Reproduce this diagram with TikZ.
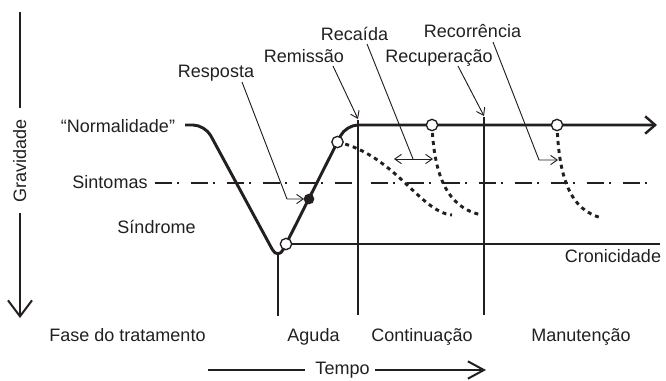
\documentclass[tikz,border=0pt]{standalone}
\usepackage{fontspec}
\setmainfont{Liberation Sans}
\usetikzlibrary{arrows.meta}
\definecolor{ink}{HTML}{231F20}
\begin{document}
\begin{tikzpicture}[x=0.75pt,y=-0.75pt,
  lbl/.style={font=\fontsize{13.5}{16}\selectfont, text=ink, inner sep=0pt, anchor=base},
  main/.style={draw=ink, line width=2.2pt},
  phase/.style={draw=ink, line width=1.3pt},
  lead/.style={draw=ink, line width=0.7pt},
  tipS/.style={-{Straight Barb[length=5pt,width=7pt]}},
  relapse/.style={draw=ink, line width=2.2pt, dash pattern=on 3pt off 3pt},
  symp/.style={draw=ink, line width=1.8pt, dash pattern=on 12.75pt off 3.75pt on 1.5pt off 9pt},
  wdot/.style={circle, draw=ink, fill=white, line width=1pt, minimum size=8.5pt, inner sep=0pt},
  bdot/.style={circle, fill=ink, minimum size=8pt, inner sep=0pt},
]
\useasboundingbox (0,0) rectangle (666,380);

% --- coordinates of the main course ---
\coordinate (n0) at (185,125);
\coordinate (n1) at (205,125);
\coordinate (bot) at (278,260);
\coordinate (top) at (346,125);
\coordinate (nend) at (657,125);

% symptoms threshold
\coordinate (s0) at (155,183);
\coordinate (s1) at (652,183);
\draw[symp] (s0) -- (s1);

% phase lines
\coordinate (stem0) at (278,255);
\coordinate (stem1) at (278,316);
\coordinate (v1a) at (358,120);
\coordinate (v1b) at (358,315);
\coordinate (v2a) at (484,117);
\coordinate (v2b) at (484,315);
\draw[draw=ink, line width=1.6pt] (stem0) -- (stem1);
\draw[phase] (v1a) -- (v1b);
\draw[phase] (v2a) -- (v2b);

% gravity axis
\coordinate (g0) at (20,12);
\coordinate (g1) at (20,108);
\coordinate (g2) at (20,213);
\coordinate (g3) at (20,318);
\draw[draw=ink, line width=1.8pt] (g0) -- (g1);
\draw[draw=ink, line width=1.8pt, -{Straight Barb[length=12pt,width=18pt,line width=1.5pt]}] (g2) -- (g3);
\node[lbl, rotate=90] (grav) at (26,161) {Gravidade};

% circles positions
\coordinate (c1p) at (286,244);
\coordinate (bdp) at (309,199);
\coordinate (c2p) at (337.5,142);
\coordinate (c3p) at (432,125);
\coordinate (c4p) at (557,125);

% relapse / recurrence curves
\coordinate (e1) at (452,215);
\coordinate (e2) at (482,215);
\coordinate (e3) at (602,218);
\draw[relapse] (c2p) .. controls (395,155) and (420,212) .. (e1);
\draw[relapse] (c3p) .. controls (434,175) and (447,208) .. (e2);
\draw[relapse] (c4p) .. controls (559,178) and (570,210) .. (e3);

% main course
\draw[main, rounded corners=9pt, -{Straight Barb[length=7.5pt,width=13pt,line width=1.8pt]}]
  (n0) -- (n1) -- (bot) -- (top) -- (nend);

% chronicity
\coordinate (ch1) at (660,244);
\draw[draw=ink, line width=1.6pt] (c1p) -- (ch1);

% dots
\node[wdot] (c1) at (c1p) {};
\node[bdot] (bd) at (bdp) {};
\node[wdot] (c2) at (c2p) {};
\node[wdot] (c3) at (c3p) {};
\node[wdot] (c4) at (c4p) {};

% labels
\node[lbl] (norm) at (118,132) {“Normalidade”};
\node[lbl] (sint) at (110,188) {Sintomas};
\node[lbl] (sind) at (156.5,233) {Síndrome};
\node[lbl] (fase) at (127.5,341) {Fase do tratamento};
\node[lbl] (aguda) at (313.5,341) {Aguda};
\node[lbl] (cont) at (422,341) {Continuação};
\node[lbl] (manu) at (581,341) {Manutenção};
\node[lbl] (cron) at (613,262) {Cronicidade};
\node[lbl] (resp) at (216,77) {Resposta};
\node[lbl] (remi) at (304,62) {Remissão};
\node[lbl] (reca) at (354.5,40) {Recaída};
\node[lbl] (recu) at (439,62) {Recuperação};
\node[lbl] (reco) at (472.5,37) {Recorrência};
\node[lbl] (tempo) at (342.5,374) {Tempo};

% time arrow
\coordinate (t1) at (208,370);
\coordinate (t2) at (305,370);
\coordinate (t3) at (375,370);
\coordinate (t4) at (486,370);
\draw[draw=ink, line width=1.5pt] (t1) -- (t2);
\draw[draw=ink, line width=1.5pt, -{Straight Barb[length=12pt,width=13pt,line width=1.5pt]}] (t3) -- (t4);

% leaders
\coordinate (rs0) at (242,82);
\coordinate (rs1) at (287,199);
\coordinate (rs2) at (304,199);
\draw[lead, tipS] (rs0) -- (rs1) -- (rs2);

\coordinate (rm0) at (333,66);
\coordinate (rm1) at (358,119);
\draw[lead, tipS] (rm0) -- (rm1);

\coordinate (rc0) at (367,44);
\coordinate (rc1) at (413,159);
\draw[lead] (rc0) -- (rc1);
\coordinate (da) at (394,159);
\coordinate (db) at (433,159);
\draw[lead, {Straight Barb[length=5pt,width=7pt]}-{Straight Barb[length=5pt,width=7pt]}] (da) -- (db);

\coordinate (ru0) at (458,66);
\coordinate (ru1) at (484,116);
\draw[lead, tipS] (ru0) -- (ru1);

\coordinate (ro0) at (493,42);
\coordinate (ro1) at (539,160);
\coordinate (ro2) at (558,160);
\draw[lead, tipS] (ro0) -- (ro1) -- (ro2);

\end{tikzpicture}
\end{document}
